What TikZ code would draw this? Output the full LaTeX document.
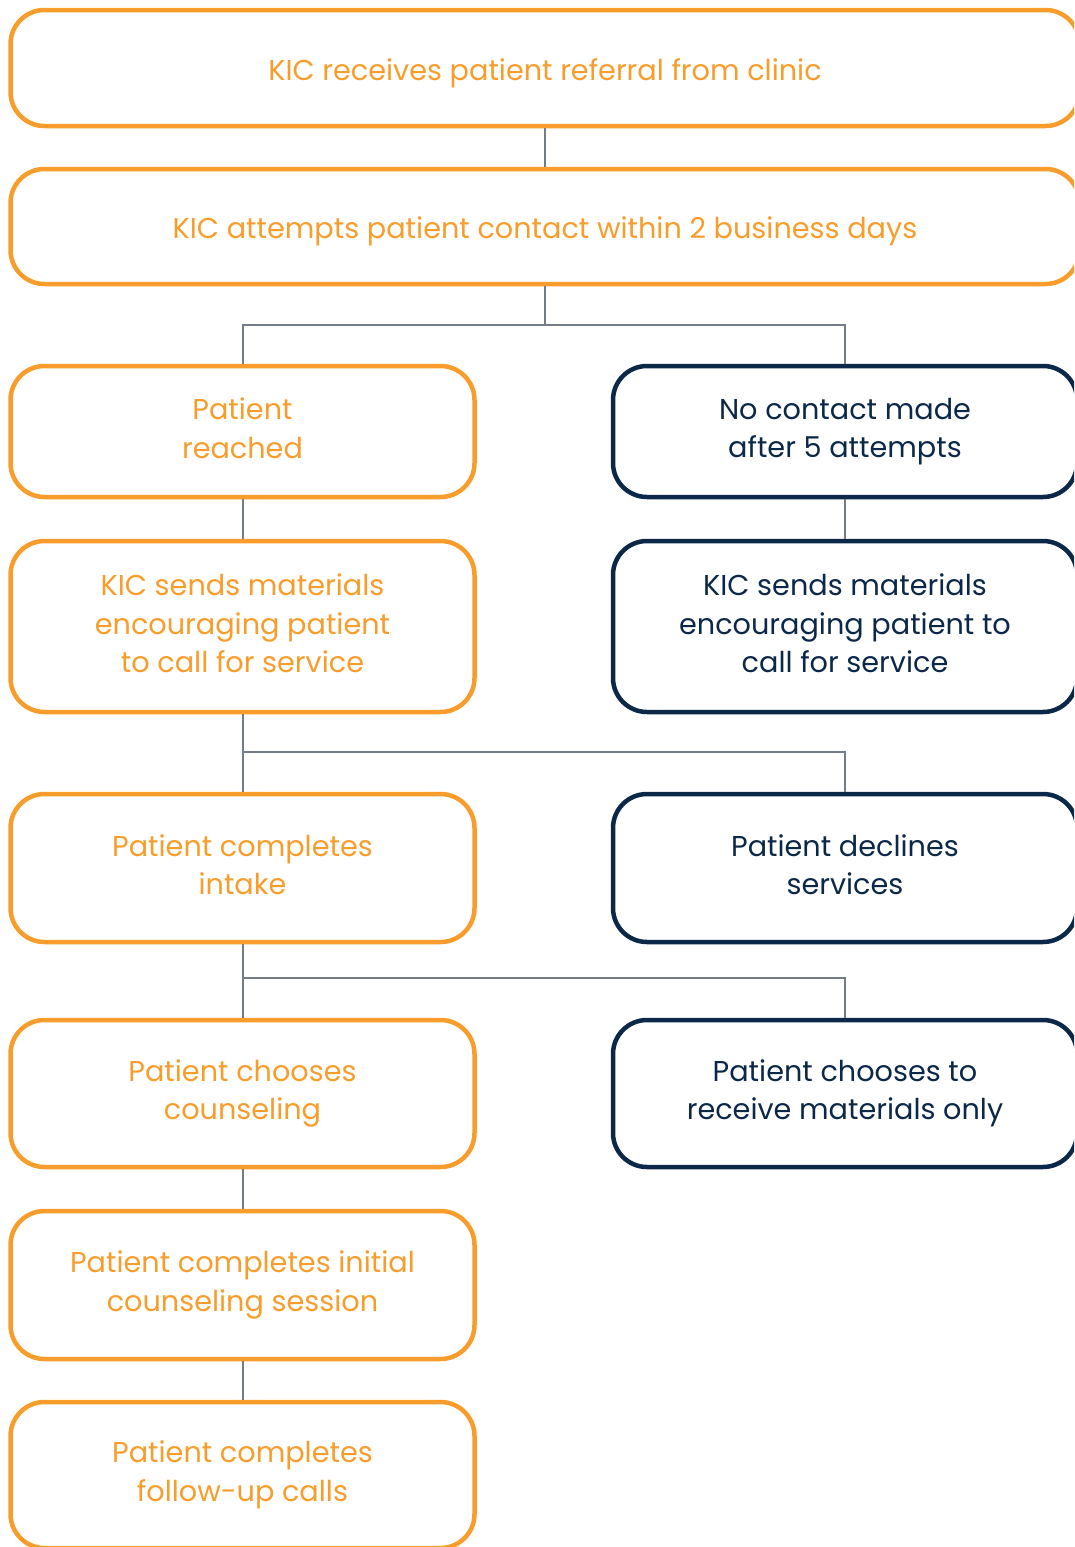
\documentclass[tikz,border=0pt]{standalone}
\usepackage{fontspec}
\setmainfont{Poppins}
\usetikzlibrary{positioning,calc}
\definecolor{kicorange}{HTML}{F89D2B}
\definecolor{kicnavy}{HTML}{0B2848}
\definecolor{linkgrey}{HTML}{747C86}
\newcommand\kicstrut{\rule[-6.5pt]{0pt}{38.5pt}}

\begin{document}
\begin{tikzpicture}[x=1pt,y=-1pt,
    orangebox/.style={draw=kicorange,line width=4.5pt,rounded corners=34pt,text=kicorange,
      align=center,font=\fontsize{28.7}{38.5}\selectfont,inner sep=0pt,
      execute at begin node=\kicstrut,execute at end node=\kicstrut},
    navybox/.style={orangebox,draw=kicnavy,text=kicnavy},
    link/.style={draw=linkgrey,line width=2pt}]
        \useasboundingbox (0,0) rectangle (1074,1547);
        \clip (0,0) rectangle (1074,1547);
        % top row, wide boxes
        \node[orangebox,minimum width=1069pt,minimum height=116pt] (referral) at (545,68) {KIC receives patient referral from clinic};
        \node[orangebox,minimum width=1069pt,minimum height=115pt] (attempt) at (545,226.5) {KIC attempts patient contact within 2 business days};
        % left column
        \node[orangebox,minimum width=464pt,minimum height=131pt] (reached) at (242.5,431.5) {Patient\\reached};
        \node[orangebox,minimum width=464pt,minimum height=171pt] (sendleft) at (242.5,626.5) {KIC sends materials\\encouraging patient\\to call for service};
        \node[orangebox,minimum width=464pt,minimum height=148pt] (intake) at (242.5,868) {Patient completes\\intake};
        \node[orangebox,minimum width=464pt,minimum height=147pt] (counseling) at (242.5,1093.5) {Patient chooses\\counseling};
        \node[orangebox,minimum width=464pt,minimum height=148pt] (initial) at (242.5,1285) {Patient completes initial\\counseling session};
        \node[orangebox,minimum width=464pt,minimum height=146pt] (followup) at (242.5,1475) {Patient completes\\follow-up calls};
        % right column
        \node[navybox,minimum width=464pt,minimum height=131pt] (nocontact) at (845,431.5) {No contact made\\after 5 attempts};
        \node[navybox,minimum width=464pt,minimum height=171pt] (sendright) at (845,626.5) {KIC sends materials\\encouraging patient to\\call for service};
        \node[navybox,minimum width=464pt,minimum height=148pt] (declines) at (845,868) {Patient declines\\services};
        \node[navybox,minimum width=464pt,minimum height=147pt] (materials) at (845,1093.5) {Patient chooses to\\receive materials only};
        % junctions
        \coordinate (split1) at (545,325);
        \coordinate (split2) at (242.5,752);
        \coordinate (split3) at (242.5,978);
        % connectors
        \draw[link] (referral.south) -- (attempt.north);
        \draw[link] (attempt.south) -- (split1);
        \draw[link] (reached.north) |- (split1) -| (nocontact.north);
        \draw[link] (reached) -- (sendleft);
        \draw[link] (nocontact) -- (sendright);
        \draw[link] (sendleft) -- (intake);
        \draw[link] (split2) -| (declines.north);
        \draw[link] (intake) -- (counseling);
        \draw[link] (split3) -| (materials.north);
        \draw[link] (counseling) -- (initial);
        \draw[link] (initial) -- (followup);
\end{tikzpicture}
\end{document}
